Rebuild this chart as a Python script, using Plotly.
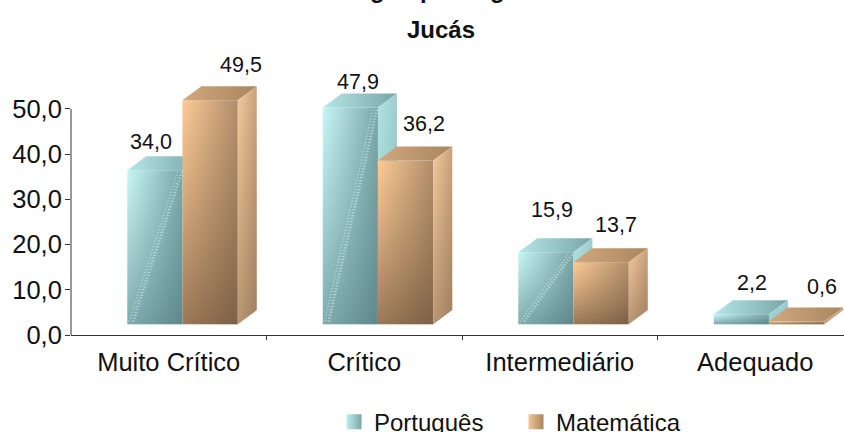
import plotly.graph_objects as go

# ---- data ----
categories = ["Muito Crítico", "Crítico", "Intermediário", "Adequado"]
portugues = [34.0, 47.9, 15.9, 2.2]
matematica = [49.5, 36.2, 13.7, 0.6]
series_names = ["Português", "Matemática"]
y_ticks = [0, 10, 20, 30, 40, 50]
title_visible = "Jucás"
# only the descenders of the first title line survive at the top of the image
title_cut_letters = ["g", "p", "g"]

# ---- geometry / style (axis units) ----
FLOOR = 2.4
DEPTH_X = 0.097
DEPTH_Y = 3.1
LEFT, MID, RIGHT = -0.212, 0.070, 0.353
FONT = "Liberation Sans, Arial, sans-serif"
TXT = "#111111"
Y_TOP = 65
PX_PER_UNIT = 4.53
PLOT_H = Y_TOP * PX_PER_UNIT
BOTTOM = 97
TOP = 432 - BOTTOM - PLOT_H

por_style = dict(
    front=("#c8f6f6", "#7aa6a8"), front_v=("rgba(90,130,135,0)", "rgba(70,110,115,0.55)"),
    top=("#b6e6e6", "#78a6a8"), side=("#b2e4e4", "#9fcdce"), side_v=("rgba(80,120,125,0)", "rgba(80,120,125,0.25)"),
)
mat_style = dict(
    front=("#fdcb96", "#b08d6b"), front_v=("rgba(120,90,60,0)", "rgba(90,65,45,0.6)"),
    top=("#d2a87e", "#a9855f"), side=("#f6cb9d", "#c9a27c"), side_v=("rgba(110,85,60,0)", "rgba(110,85,60,0.45)"),
)


def face(xs, ys, colors, kind="horizontal"):
    return go.Scatter(
        x=xs + xs[:1], y=ys + ys[:1], mode="lines", fill="toself",
        line=dict(width=0, color="rgba(0,0,0,0)"),
        fillgradient=dict(type=kind, colorscale=[[0, colors[0]], [1, colors[1]]]),
        hoverinfo="skip", showlegend=False,
    )


def bar3d(fig, x0, x1, value, st, speckle=False):
    lo, hi = FLOOR, FLOOR + value
    fx, fy = [x0, x1, x1, x0], [lo, lo, hi, hi]
    fig.add_trace(face(fx, fy, st["front"]))
    fig.add_trace(face(fx, fy, (st["front_v"][1], st["front_v"][0]), "vertical"))
    if speckle:
        for off, w in ((0.0, 3), (-0.02, 1.5)):
            fig.add_trace(go.Scatter(
                x=[x0 + 0.01 + off + 0.02, x1 - 0.005 + off], y=[lo + 0.6, hi - 0.4], mode="lines",
                line=dict(color="rgba(225,255,255,0.55)", width=w, dash="1px 2px"),
                hoverinfo="skip", showlegend=False))
    fig.add_trace(face([x0, x1, x1 + DEPTH_X, x0 + DEPTH_X],
                       [hi, hi, hi + DEPTH_Y, hi + DEPTH_Y], st["top"]))
    sx = [x1, x1 + DEPTH_X, x1 + DEPTH_X, x1]
    sy = [lo, lo + DEPTH_Y, hi + DEPTH_Y, hi]
    fig.add_trace(face(sx, sy, st["side"]))
    fig.add_trace(face(sx, sy, (st["side_v"][1], st["side_v"][0]), "vertical"))


fig = go.Figure()
for i in range(len(categories)):
    bar3d(fig, i + LEFT, i + MID, portugues[i], por_style, speckle=portugues[i] > 5)
    bar3d(fig, i + MID, i + RIGHT, matematica[i], mat_style)

# legend entries
fig.add_trace(go.Scatter(
    x=[None], y=[None], mode="markers", name=series_names[0],
    marker=dict(symbol="square", size=15, color="#c0eeee",
                gradient=dict(type="horizontal", color="#7aa6a8"))))
fig.add_trace(go.Scatter(
    x=[None], y=[None], mode="markers", name=series_names[1],
    marker=dict(symbol="square", size=15, color="#f2c596",
                gradient=dict(type="horizontal", color="#a9865f"))))

# value labels: (dx, dy) nudges in pixels from the top centre of each front face
por_nudge = [(-4, 28), (8, 25), (6, 42), (11, 31)]
mat_nudge = [(31, 35), (18.5, 36), (15, 37), (25.5, 34)]
annotations = []
for i in range(len(categories)):
    for vals, cx, nudge in ((portugues, (LEFT + MID) / 2, por_nudge),
                            (matematica, (MID + RIGHT) / 2, mat_nudge)):
        annotations.append(dict(
            x=i + cx, y=FLOOR + vals[i], text=f"{vals[i]:.1f}".replace(".", ","),
            showarrow=False, xshift=nudge[i][0], yshift=nudge[i][1],
            font=dict(family=FONT, size=21.5, color=TXT), xanchor="center", yanchor="middle"))

annotations.append(dict(
    xref="paper", yref="paper", x=(441 - 71) / 773, y=1, yshift=TOP - 29, text=f"<b>{title_visible}</b>",
    showarrow=False, xanchor="center", yanchor="middle",
    font=dict(family=FONT, size=24, color=TXT)))
for letter, px in zip(title_cut_letters, (377, 427, 497)):
    annotations.append(dict(
        xref="paper", yref="paper", x=(px - 71) / 773, y=1, yshift=TOP + 11, text=f"<b>{letter}</b>",
        showarrow=False, xanchor="center", yanchor="middle",
        font=dict(family=FONT, size=24, color=TXT)))

fig.update_layout(
    width=844, height=432, margin=dict(l=71, r=0, t=TOP, b=BOTTOM, autoexpand=False),
    paper_bgcolor="white", plot_bgcolor="white", separators=", ",
    font=dict(family=FONT, color=TXT),
    annotations=annotations,
    showlegend=True,
    shapes=[dict(type="line", xref="paper", yref="y", x0=0, x1=0, y0=y_ticks[0], y1=y_ticks[-1],
                 line=dict(color="#333333", width=1), layer="below")],
    legend=dict(orientation="h", xref="paper", yref="paper", x=(334 - 71) / 773, y=-0.22,
                xanchor="left", yanchor="top", entrywidth=137, entrywidthmode="pixels",
                font=dict(family=FONT, size=24, color=TXT), bgcolor="rgba(0,0,0,0)",
                tracegroupgap=0),
    xaxis=dict(range=[-0.5, -0.5 + 773 / 195.5], tickmode="array",
               tickvals=list(range(len(categories))), ticktext=categories,
               ticks="", showgrid=False, zeroline=False, showline=True, linecolor="#333333",
               ticklabelstandoff=4,
               tickfont=dict(family=FONT, size=25.5, color=TXT),
               minor=dict(tickmode="array", tickvals=[0.5, 1.5, 2.5], ticks="outside",
                          ticklen=4, tickcolor="#333333", showgrid=False)),
    yaxis=dict(range=[0, Y_TOP], tickmode="array", tickvals=y_ticks, tickformat=".1f",
               ticks="outside", ticklen=5, tickcolor="#333333", showgrid=False, zeroline=False,
               showline=False, ticklabelstandoff=-2,
               tickfont=dict(family=FONT, size=25.5, color=TXT)),
)

fig.write_html("out.html", config=dict(displayModeBar=False),
               post_script="document.body.style.margin='0';document.body.style.overflow='hidden';")
